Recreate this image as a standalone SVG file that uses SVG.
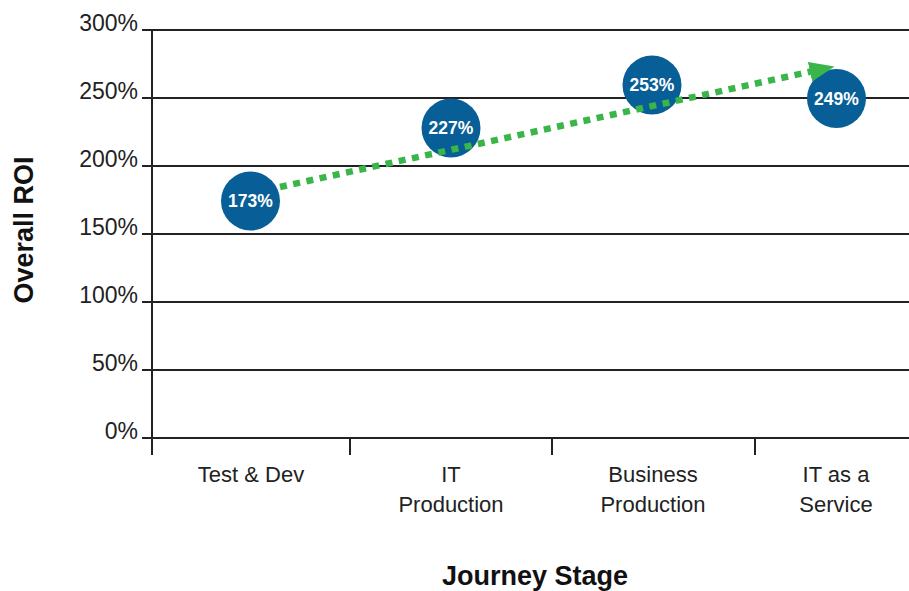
<svg xmlns="http://www.w3.org/2000/svg" width="909" height="591" viewBox="0 0 909 591">
  <defs>
    <style>
      .grid { stroke: #222; stroke-width: 2; fill: none; }
      .ylab { font-family: "Liberation Sans", Arial, sans-serif; font-size: 23px; fill: #222; text-anchor: end; }
      .xlab { font-family: "Liberation Sans", Arial, sans-serif; font-size: 22px; fill: #222; text-anchor: middle; }
      .title { font-family: "Liberation Sans", Arial, sans-serif; font-size: 27px; font-weight: bold; fill: #111; text-anchor: middle; }
      .dot { fill: #085f97; }
      .val { font-family: "Liberation Sans", Arial, sans-serif; font-size: 17.5px; font-weight: bold; fill: #fff; text-anchor: middle; }
      .trend { stroke: #3ab54a; stroke-width: 6.5; stroke-dasharray: 7 6.5; fill: none; }
    </style>
    <marker id="ah" markerUnits="userSpaceOnUse" markerWidth="26" markerHeight="22" refX="1" refY="10" orient="auto">
      <path d="M0,0 L25,10 L0,20 z" fill="#3ab54a"/>
    </marker>
  </defs>
  <rect width="909" height="591" fill="#fff"/>

  <g id="axes">
    <line class="grid" x1="142" y1="30" x2="909" y2="30"/>
    <line class="grid" x1="142" y1="98" x2="909" y2="98"/>
    <line class="grid" x1="142" y1="166" x2="909" y2="166"/>
    <line class="grid" x1="142" y1="234" x2="909" y2="234"/>
    <line class="grid" x1="142" y1="302" x2="909" y2="302"/>
    <line class="grid" x1="142" y1="370" x2="909" y2="370"/>
    <line class="grid" x1="142" y1="438" x2="909" y2="438"/>
    <line class="grid" x1="152" y1="30" x2="152" y2="455"/>
    <line class="grid" x1="350" y1="438" x2="350" y2="455"/>
    <line class="grid" x1="552" y1="438" x2="552" y2="455"/>
    <line class="grid" x1="755" y1="438" x2="755" y2="455"/>
  </g>

  <g id="y-labels">
    <text class="ylab" x="138" y="31">300%</text>
    <text class="ylab" x="138" y="99">250%</text>
    <text class="ylab" x="138" y="167">200%</text>
    <text class="ylab" x="138" y="235">150%</text>
    <text class="ylab" x="138" y="303">100%</text>
    <text class="ylab" x="138" y="371">50%</text>
    <text class="ylab" x="138" y="439">0%</text>
  </g>

  <g id="x-labels">
    <text class="xlab" x="251" y="482">Test &amp; Dev</text>
    <text class="xlab" x="451" y="482">IT</text>
    <text class="xlab" x="451" y="512">Production</text>
    <text class="xlab" x="653" y="482">Business</text>
    <text class="xlab" x="653" y="512">Production</text>
    <text class="xlab" x="836" y="482">IT as a</text>
    <text class="xlab" x="836" y="512">Service</text>
  </g>

  <text id="y-title" class="title" transform="translate(33,230) rotate(-90)">Overall ROI</text>
  <text id="x-title" class="title" x="535" y="585">Journey Stage</text>

  <g id="node-173">
    <circle class="dot" cx="250.5" cy="201" r="29.5"/>
    <text class="val" x="250.5" y="207">173%</text>
  </g>
  <g id="node-227">
    <circle class="dot" cx="451" cy="128" r="29.5"/>
    <text class="val" x="451" y="134">227%</text>
  </g>
  <g id="node-253">
    <circle class="dot" cx="652" cy="85" r="29.5"/>
    <text class="val" x="652" y="91">253%</text>
  </g>
  <g id="node-249">
    <circle class="dot" cx="836.5" cy="98.5" r="29.5"/>
    <text class="val" x="836.5" y="104.5">249%</text>
  </g>

  <g id="connectors">
    <line class="trend" x1="280" y1="187" x2="811" y2="71.5" marker-end="url(#ah)"/>
  </g>
</svg>
